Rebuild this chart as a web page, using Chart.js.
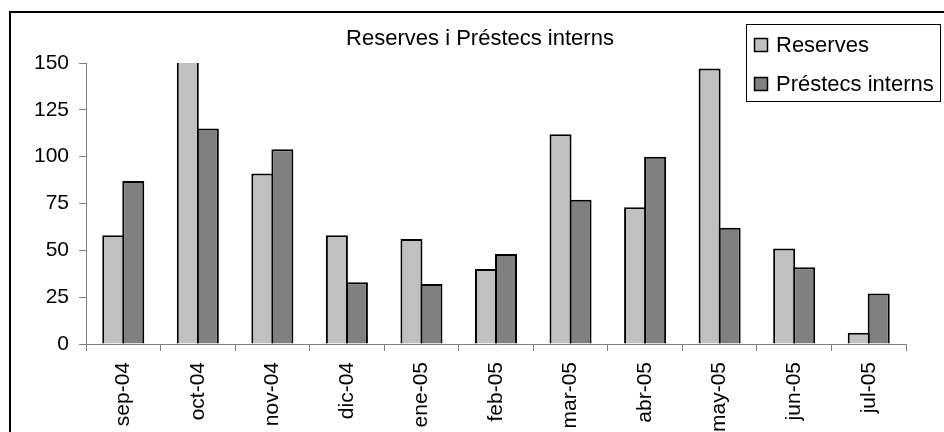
<!DOCTYPE html>
<html>
<head>
<meta charset="utf-8">
<script src="https://cdn.jsdelivr.net/npm/chart.js@4.4.1/dist/chart.umd.min.js"></script>
<style>
  html, body { margin: 0; padding: 0; background: #ffffff; }
  #wrap { position: relative; width: 944px; height: 432px; }
</style>
</head>
<body>
<div id="wrap"><canvas id="c" width="944" height="432"></canvas></div>
<script>
const categories = ["sep-04","oct-04","nov-04","dic-04","ene-05","feb-05","mar-05","abr-05","may-05","jun-05","jul-05"];
const reserves = [58, 170, 91, 58, 56, 40, 112, 73, 147, 51, 6];
const prestecs = [87, 115, 104, 33, 32, 48, 77, 100, 62, 41, 27];
const seriesNames = ["Reserves", "Préstecs interns"];
const titleText = "Reserves i Préstecs interns";
const yTicks = [0, 25, 50, 75, 100, 125, 150];

const FONT = "'Liberation Sans', Arial, sans-serif";

const framePlugin = {
  id: 'frame',
  afterDraw(chart) {
    const ctx = chart.ctx;
    ctx.save();
    // outer chart frame (left + top visible)
    ctx.strokeStyle = '#000';
    ctx.lineWidth = 2;
    ctx.beginPath();
    ctx.moveTo(10, 432);
    ctx.lineTo(10, 12);
    ctx.lineTo(944, 12);
    ctx.stroke();
    // title
    ctx.fillStyle = '#000';
    ctx.font = '22px ' + FONT;
    ctx.textAlign = 'center';
    ctx.textBaseline = 'middle';
    ctx.fillText(titleText, 480, 39);
    // legend
    ctx.lineWidth = 1;
    ctx.strokeStyle = '#000';
    ctx.fillStyle = '#fff';
    ctx.fillRect(746.5, 24.5, 194, 77);
    ctx.strokeRect(746.5, 24.5, 194, 77);
    const ds = chart.data.datasets;
    const rows = [45, 84];
    ds.forEach((d, i) => {
      ctx.fillStyle = d.backgroundColor;
      ctx.fillRect(754, rows[i] - 7, 14, 14);
      ctx.lineWidth = 1.5;
      ctx.strokeStyle = '#000';
      ctx.strokeRect(754.5, rows[i] - 6.5, 13, 13);
      ctx.fillStyle = '#000';
      ctx.font = '22px ' + FONT;
      ctx.textAlign = 'left';
      ctx.textBaseline = 'middle';
      ctx.fillText(d.label, 776, rows[i] + 1);
    });
    ctx.restore();
  }
};

new Chart(document.getElementById('c'), {
  type: 'bar',
  data: {
    labels: categories,
    datasets: [
      {
        label: seriesNames[0],
        data: reserves,
        backgroundColor: '#C0C0C0',
        borderColor: '#000',
        borderWidth: 2,
        borderSkipped: 'start',
        clip: 0
      },
      {
        label: seriesNames[1],
        data: prestecs,
        backgroundColor: '#808080',
        borderColor: '#000',
        borderWidth: 2,
        borderSkipped: 'start',
        clip: 0
      }
    ]
  },
  options: {
    responsive: false,
    animation: false,
    devicePixelRatio: 1,
    layout: { padding: { left: 0, right: 38, top: 63, bottom: 0 } },
    datasets: { bar: { categoryPercentage: 0.537, barPercentage: 1.1 } },
    plugins: {
      legend: { display: false },
      title: { display: false },
      tooltip: { enabled: false }
    },
    scales: {
      x: {
        offset: true,
        grid: { offset: true, drawOnChartArea: false, drawTicks: true, tickLength: 7, color: '#808080', lineWidth: 1 },
        border: { display: true, color: '#808080', width: 1 },
        ticks: { color: '#000', font: { family: FONT, size: 21 }, minRotation: 90, maxRotation: 90, padding: 11, autoSkip: false },
        afterFit(scale) { scale.height = 88; }
      },
      y: {
        min: 0, max: 150,
        afterBuildTicks(scale) { scale.ticks = yTicks.map(v => ({ value: v })); },
        grid: { drawOnChartArea: false, drawTicks: true, tickLength: 7, color: '#808080', lineWidth: 1 },
        border: { display: true, color: '#808080', width: 1 },
        ticks: { color: '#000', font: { family: FONT, size: 21 }, padding: 10 },
        afterFit(scale) { scale.width = 86; }
      }
    }
  },
  plugins: [framePlugin]
});
</script>
</body>
</html>
